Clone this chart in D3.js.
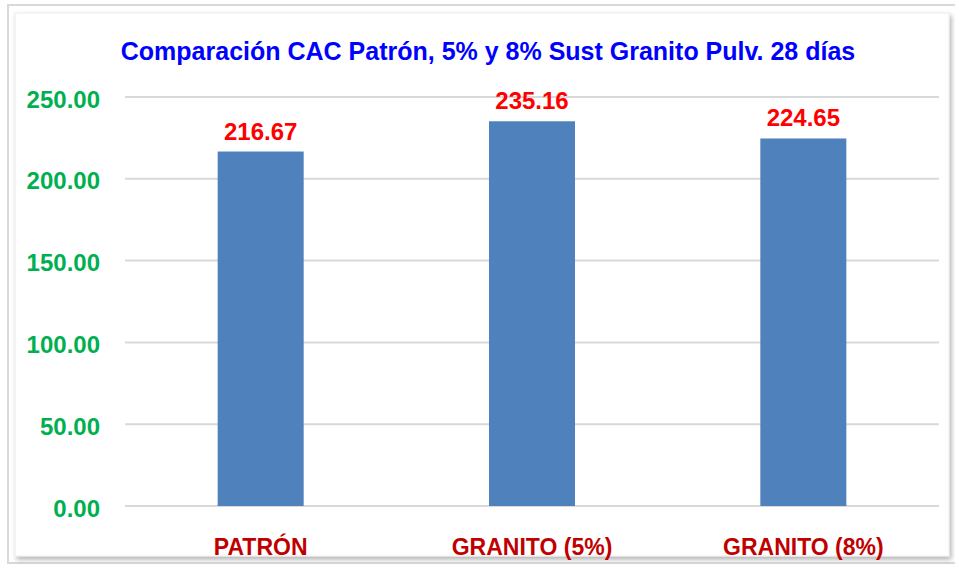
<!DOCTYPE html>
<html>
<head>
<meta charset="utf-8">
<script src="https://cdn.jsdelivr.net/npm/d3@7"></script>
<style>
  html, body { margin: 0; padding: 0; background: #fff; }
  text { font-family: "Liberation Sans", Arial, sans-serif; font-weight: bold; }
</style>
</head>
<body>
<div id="chart"></div>
<script>
const categories = ["PATRÓN", "GRANITO (5%)", "GRANITO (8%)"];
const values = [216.67, 235.16, 224.65];
const yTicks = [0, 50, 100, 150, 200, 250];
const title = "Comparación CAC Patrón, 5% y 8% Sust Granito Pulv. 28 días";

const W = 955, H = 568;
const plot = { left: 125, right: 939, top: 97, bottom: 506 };

const svg = d3.select("#chart").append("svg")
    .attr("width", W)
    .attr("height", H);

// soft shadow round the chart box
const defs = svg.append("defs");
const f = defs.append("filter").attr("id", "shadow")
    .attr("x", "-5%").attr("y", "-5%").attr("width", "110%").attr("height", "110%");
f.append("feDropShadow").attr("dx", 2).attr("dy", 3).attr("stdDeviation", 2.5)
    .attr("flood-color", "#000").attr("flood-opacity", 0.3);

// outer frame
svg.append("rect")
    .attr("x", 8).attr("y", 5).attr("width", W).attr("height", 558)
    .attr("fill", "#fff").attr("stroke", "#d9d9d9").attr("stroke-width", 2);

// inner chart box
svg.append("rect")
    .attr("x", 15).attr("y", 13).attr("width", 934).attr("height", 543)
    .attr("fill", "#fff").attr("stroke", "#ececec")
    .attr("filter", "url(#shadow)");

const x = d3.scaleBand()
    .domain(categories)
    .range([plot.left, plot.right])
    .paddingInner(0.683)
    .paddingOuter(0.3415);

const y = d3.scaleLinear()
    .domain([0, 250])
    .range([plot.bottom, plot.top]);

// gridlines
svg.append("g")
    .selectAll("line")
    .data(yTicks)
    .join("line")
    .attr("x1", plot.left).attr("x2", plot.right)
    .attr("y1", d => y(d)).attr("y2", d => y(d))
    .attr("stroke", "#d9d9d9").attr("stroke-width", 2);

// y axis labels
const yAxis = svg.append("g")
    .attr("transform", `translate(${plot.left - 25},0)`)
    .call(d3.axisLeft(y).tickValues(yTicks).tickFormat(d3.format(".2f")).tickSize(0).tickPadding(0));
yAxis.select(".domain").remove();
yAxis.selectAll("text")
    .attr("fill", "#00b050")
    .attr("font-size", 24)
    .attr("dy", "0.42em")
    .style("font-family", null);

// bars
svg.append("g")
    .selectAll("rect")
    .data(values)
    .join("rect")
    .attr("x", (d, i) => x(categories[i]))
    .attr("width", x.bandwidth())
    .attr("y", d => y(d))
    .attr("height", d => y(0) - y(d))
    .attr("fill", "#4f81bd");

// value labels
svg.append("g")
    .selectAll("text")
    .data(values)
    .join("text")
    .attr("x", (d, i) => x(categories[i]) + x.bandwidth() / 2)
    .attr("y", d => y(d) - 12)
    .attr("text-anchor", "middle")
    .attr("fill", "#ff0000")
    .attr("font-size", 24)
    .text(d => d.toFixed(2));

// x axis labels
const xAxis = svg.append("g")
    .attr("transform", `translate(0,${plot.bottom})`)
    .call(d3.axisBottom(x).tickSize(0).tickPadding(0));
xAxis.select(".domain").remove();
xAxis.selectAll("text")
    .attr("y", 49)
    .attr("dy", 0)
    .attr("fill", "#c00000")
    .attr("font-size", 23)
    .style("font-family", null);

// title
svg.append("text")
    .attr("x", 488)
    .attr("y", 60)
    .attr("text-anchor", "middle")
    .attr("fill", "#0000ff")
    .attr("font-size", 25)
    .text(title);
</script>
</body>
</html>
